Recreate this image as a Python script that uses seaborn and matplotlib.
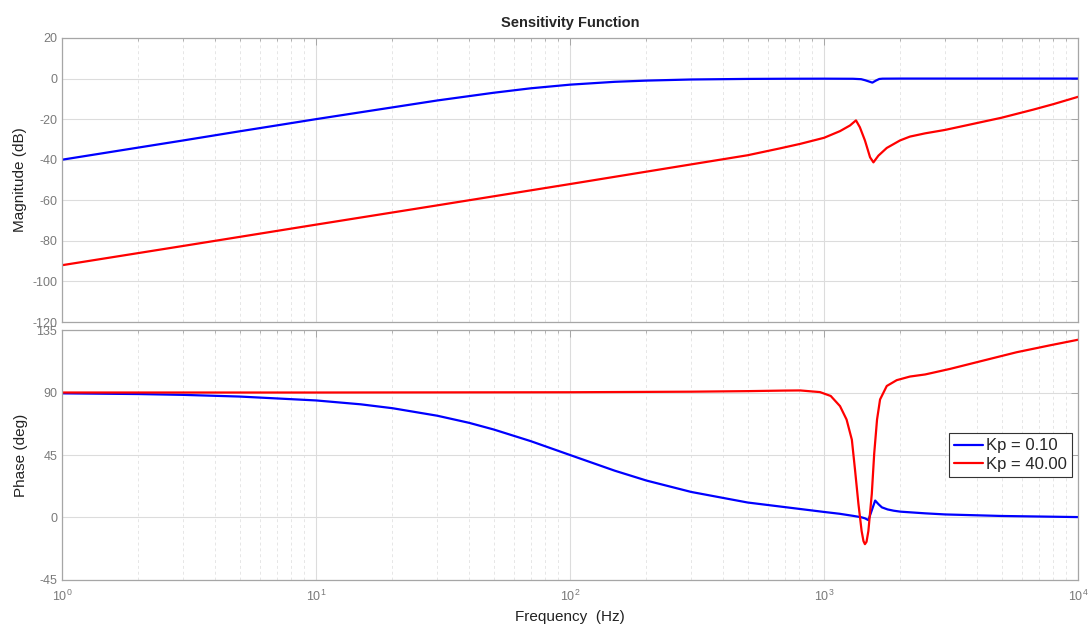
import numpy as np
import pandas as pd
import matplotlib
matplotlib.use("Agg")
import matplotlib.pyplot as plt
from matplotlib.ticker import LogLocator, NullFormatter
from matplotlib.transforms import Bbox, TransformedBbox
import seaborn as sns

# ---------------- data ----------------
labels = ["Kp = 0.10", "Kp = 40.00"]

blue_mag_f = [1, 2, 3, 5, 7, 10, 15, 20, 30, 50, 70, 100, 150, 200, 300, 500, 700,
              1000, 1300, 1400, 1450, 1500, 1550, 1600, 1650, 1700, 2000, 5000, 10000]
blue_mag = [-40, -34, -30.5, -26, -23.1, -20, -16.6, -14.2, -10.8, -7, -4.8, -3, -1.6,
            -1, -0.45, -0.17, -0.09, -0.05, -0.1, -0.3, -0.8, -1.4, -2.0, -1.0, -0.2,
            -0.05, 0, 0, 0]

blue_ph_f = [1, 2, 3, 5, 10, 15, 20, 30, 40, 50, 70, 100, 150, 200, 300, 500, 700,
             1000, 1150, 1300, 1400, 1450, 1495, 1540, 1590, 1640, 1690, 1780, 1880,
             2000, 2500, 3000, 5000, 10000]
blue_ph = [89.4, 88.9, 88.3, 87.1, 84.3, 81.5, 78.7, 73.3, 68.2, 63.4, 55, 45, 33.7,
           26.6, 18.4, 10.8, 7.5, 4.0, 2.7, 1.2, 0.2, -0.6, -1.9, 4.9, 12.2, 9.5, 7.3,
           5.8, 4.9, 4.2, 3.0, 2.2, 1.1, 0.3]

red_mag_f = [1, 3, 10, 30, 100, 300, 500, 671, 805, 1000, 1156, 1266, 1336, 1384, 1449,
             1518, 1565, 1637, 1766, 1991, 2179, 2500, 3000, 3650, 5000, 6667, 8000, 10000]
red_mag = [-92, -82.5, -72, -62.5, -52, -42.3, -37.8, -34.4, -32.2, -29.2, -25.9, -23.1,
           -20.6, -24, -30.5, -38.8, -41.3, -38, -34.2, -30.5, -28.6, -27, -25.3, -23,
           -19.3, -15.3, -12.6, -9]

red_ph_f = [1, 10, 100, 300, 500, 700, 805, 964, 1063, 1156, 1227, 1287, 1325, 1366,
            1406, 1430, 1449, 1470, 1495, 1542, 1576, 1617, 1662, 1766, 1933, 2179, 2500,
            3134, 4236, 5729, 7762, 10000]
red_ph = [90, 90, 90.2, 90.6, 91, 91.4, 91.5, 90.3, 87.5, 80.2, 70.5, 56, 34, 9.8, -9.7,
          -17, -19.2, -17.5, -9.7, 17, 46, 70.5, 85, 94.7, 98.9, 101.5, 103, 107, 113,
          119, 124, 128]

mag_ticks = [-120, -100, -80, -60, -40, -20, 0, 20]
ph_ticks = [-45, 0, 45, 90, 135]

# ---------------- frames ----------------
mag_df = pd.concat([
    pd.DataFrame({"f": blue_mag_f, "v": blue_mag, "Kp": labels[0]}),
    pd.DataFrame({"f": red_mag_f, "v": red_mag, "Kp": labels[1]}),
])
ph_df = pd.concat([
    pd.DataFrame({"f": blue_ph_f, "v": blue_ph, "Kp": labels[0]}),
    pd.DataFrame({"f": red_ph_f, "v": red_ph, "Kp": labels[1]}),
])

# ---------------- style ----------------
sns.set_style("white")
plt.rcParams["font.family"] = ["Liberation Sans", "DejaVu Sans"]
plt.rcParams["axes.unicode_minus"] = False
plt.rcParams["mathtext.fontset"] = "custom"
plt.rcParams["mathtext.rm"] = "Liberation Sans"
plt.rcParams["mathtext.it"] = "Liberation Sans"

palette = {labels[0]: "#0000ff", labels[1]: "#ff0000"}
frame_col = "#a6a6a6"
tick_col = "#7a7a7a"

fig = plt.figure(figsize=(10.92, 6.26), dpi=100)
ax1 = fig.add_axes([0.0568, 0.4856, 0.9304, 0.4537])
ax2 = fig.add_axes([0.0568, 0.0735, 0.9304, 0.3993])

for ax in (ax1, ax2):
    ax.set_xscale("log")

sns.lineplot(data=mag_df, x="f", y="v", hue="Kp", palette=palette, estimator=None,
             ax=ax1, legend=False, linewidth=1.6)
sns.lineplot(data=ph_df, x="f", y="v", hue="Kp", palette=palette, estimator=None,
             ax=ax2, legend=True, linewidth=1.6)

ax1.set_ylim(-120, 20)
ax1.set_yticks(mag_ticks)
ax2.set_ylim(-45, 135)
ax2.set_yticks(ph_ticks)

for ax in (ax1, ax2):
    ax.set_xlim(1, 1e4)
    ax.xaxis.set_major_locator(LogLocator(base=10, numticks=10))
    ax.xaxis.set_minor_locator(LogLocator(base=10, subs=np.arange(2, 10), numticks=20))
    ax.xaxis.set_minor_formatter(NullFormatter())
    ax.grid(True, which="major", axis="both", color="#dcdcdc", linewidth=0.8, linestyle="-")
    ax.grid(True, which="minor", axis="x", color="#e6e6e6", linewidth=0.7, linestyle=(0, (3, 3)))
    ax.set_axisbelow(True)
    for s in ax.spines.values():
        s.set_color(frame_col)
        s.set_linewidth(0.9)
    ax.tick_params(which="both", direction="in", top=True, right=True,
                   color=frame_col, labelcolor=tick_col, labelsize=9)
    ax.tick_params(which="major", length=5, width=0.7)
    ax.tick_params(which="minor", length=2.5, width=0.6)
    ax.tick_params(axis="x", pad=6)

ax1.tick_params(axis="x", labelbottom=False)
ax1.set_xlabel("")
ax1.set_ylabel("Magnitude (dB)", fontsize=11, color="#222222", labelpad=4)
ax2.set_ylabel("Phase (deg)", fontsize=11, color="#222222", labelpad=6)
ax2.set_xlabel("Frequency  (Hz)", fontsize=11, color="#222222", labelpad=5)
ax1.set_title("Sensitivity Function", fontsize=10.5, fontweight="bold", pad=8)

handles, labs = ax2.get_legend_handles_labels()
leg = ax2.legend(handles, labs, loc="center right", bbox_to_anchor=(0.994, 0.5),
                 frameon=True, fancybox=False, edgecolor="#333333", fontsize=12,
                 handlelength=1.75, handletextpad=0.2, borderpad=0.3,
                 labelspacing=0.2, borderaxespad=0, framealpha=1)
leg.get_frame().set_linewidth(0.8)

# the lowest magnitude label is partly hidden by the phase axes, as in the reference
clip = TransformedBbox(Bbox([[0, 0.478], [1, 1]]), fig.transFigure)
fig.canvas.draw()
for t in ax1.get_yticklabels():
    if t.get_text() in ("-120", "\u2212120"):
        t.set_clip_box(clip)
        t.set_clip_on(True)

fig.savefig("out.png", dpi=100)
